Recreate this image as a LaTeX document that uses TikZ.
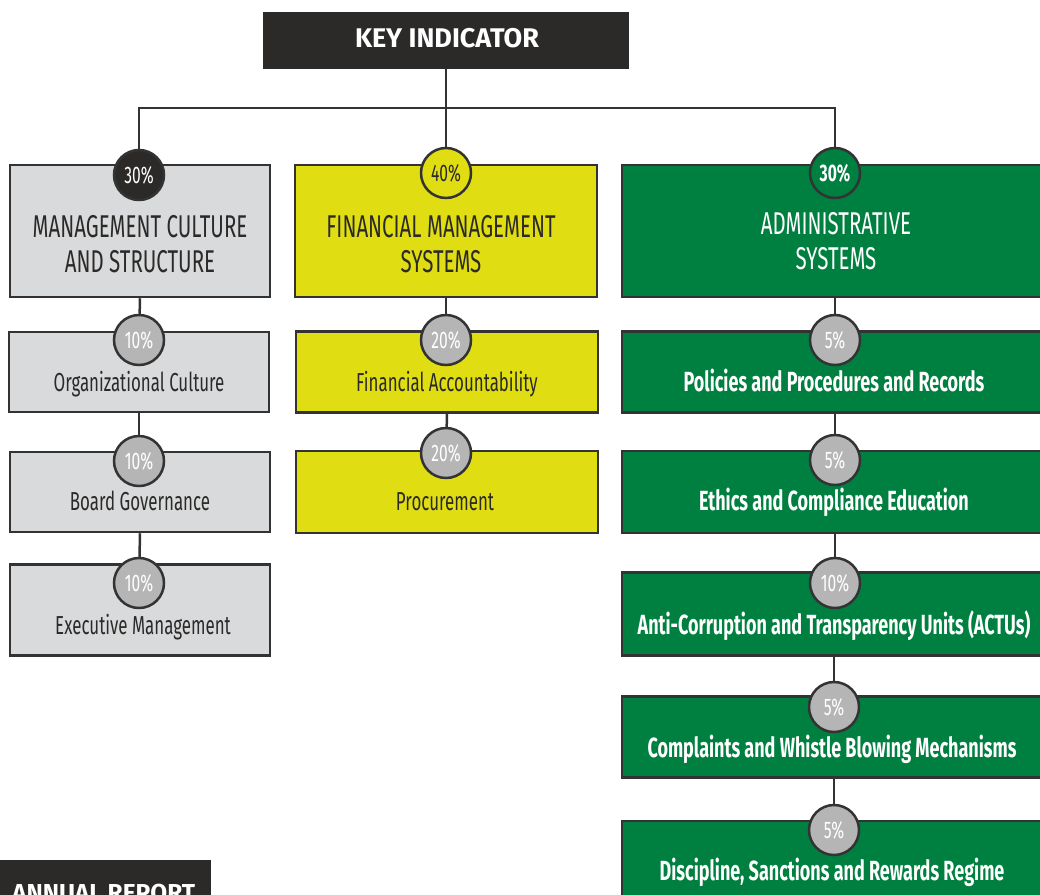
\documentclass[tikz,border=0pt]{standalone}
\usepackage{fontspec}
\setmainfont{Fira Sans}[FakeStretch=0.65]
\newfontfamily\wideface{Fira Sans}
\usepackage{tikz}
\usetikzlibrary{positioning}
\definecolor{ColDark}{RGB}{43,42,41}
\definecolor{ColLine}{RGB}{51,51,51}
\definecolor{ColGrey}{RGB}{217,218,219}
\definecolor{ColYel}{RGB}{224,222,18}
\definecolor{ColGreen}{RGB}{0,128,64}
\definecolor{ColCirc}{RGB}{180,181,180}
\tikzstyle{BoxBase}=[rectangle,draw=ColLine,line width=2.5pt,inner sep=0pt]
\tikzstyle{BoxGrey}=[BoxBase,fill=ColGrey]
\tikzstyle{BoxYel}=[BoxBase,fill=ColYel]
\tikzstyle{BoxGreen}=[BoxBase,fill=ColGreen]
\tikzstyle{PctBase}=[circle,draw=ColLine,line width=2.5pt,minimum size=50,inner sep=0pt,
font=\fontsize{24}{24}\selectfont]
\tikzstyle{PctSub}=[PctBase,fill=ColCirc,text=white]
\tikzstyle{TxtHead}=[align=center,font=\fontsize{31.5}{35}\selectfont]
\tikzstyle{TxtSub}=[text height=18pt,text depth=0pt,inner sep=0pt,font=\fontsize{26}{26}\selectfont]
\tikzstyle{TxtGreen}=[text height=19pt,text depth=0pt,inner sep=0pt,text=white,
font=\fontsize{27.7}{28}\selectfont\bfseries]
\tikzstyle{TxtWide}=[text height=18.6pt,text depth=0pt,inner sep=0pt,text=white,
font=\wideface\fontsize{27}{27}\selectfont\bfseries]
\tikzstyle{EdgeTree}=[ColLine,line width=2.5pt]

\begin{document}
\begin{tikzpicture}[x=1pt,y=-1pt]
    \clip(0,0)rectangle(1040,894);
    % top
    \node[rectangle,fill=ColDark,minimum width=366,minimum height=57](key)at(446,40){};
    \node[TxtWide](keyt)at(447,38){KEY INDICATOR};
    \coordinate(jA)at(139,108);
    \coordinate(jB)at(446,108);
    \coordinate(jC)at(835,108);
    % management culture
    \node[BoxGrey,minimum width=260,minimum height=132](mc)at(140,231){};
    \node[TxtHead,text=ColDark](mct)at(140,244){MANAGEMENT CULTURE\\AND STRUCTURE};
    \node[BoxGrey,minimum width=260,minimum height=80](oc)at(139,372){};
    \node[TxtSub,text=ColDark](oct)at(139,382){Organizational Culture};
    \node[BoxGrey,minimum width=260,minimum height=80](bg)at(140,492){};
    \node[TxtSub,text=ColDark](bgt)at(140,501){Board Governance};
    \node[BoxGrey,minimum width=260,minimum height=91](em)at(140,610){};
    \node[TxtSub,text=ColDark](emt)at(143,625){Executive Management};
    % financial management
    \node[BoxYel,minimum width=302,minimum height=132](fm)at(446,231){};
    \node[TxtHead,text=ColDark](fmt)at(441,244){FINANCIAL MANAGEMENT\\SYSTEMS};
    \node[BoxYel,minimum width=302,minimum height=81](fa)at(447,372){};
    \node[TxtSub,text=ColDark](fat)at(447,382){Financial Accountability};
    \node[BoxYel,minimum width=302,minimum height=82](pr)at(447,492){};
    \node[TxtSub,text=ColDark](prt)at(445,501){Procurement};
    % administrative systems
    \node[BoxGreen,minimum width=440,minimum height=132](as)at(842,231){};
    \node[TxtHead,text=white](ast)at(836,241){ADMINISTRATIVE\\SYSTEMS};
    \node[BoxGreen,minimum width=440,minimum height=81](pp)at(842,372){};
    \node[TxtGreen](ppt)at(834,382){Policies and Procedures and Records};
    \node[BoxGreen,minimum width=440,minimum height=82](ec)at(842,492){};
    \node[TxtGreen](ect)at(834,501){Ethics and Compliance Education};
    \node[BoxGreen,minimum width=440,minimum height=83](ac)at(842,614){};
    \node[TxtGreen](act)at(834,625){Anti-Corruption and Transparency Units (ACTUs)};
    \node[BoxGreen,minimum width=440,minimum height=81](cw)at(842,737){};
    \node[TxtGreen](cwt)at(832,748){Complaints and Whistle Blowing Mechanisms};
    \node[BoxGreen,minimum width=440,minimum height=90](ds)at(842,866){};
    \node[TxtGreen](dst)at(832,871){Discipline, Sanctions and Rewards Regime};
    % percentages
    \node[PctBase,fill=ColDark,text=white](pmc)at(139,175){30\%};
    \node[PctBase,fill=ColYel,text=ColDark](pfm)at(446,173){40\%};
    \node[PctBase,fill=ColGreen,text=white,font=\fontsize{24}{24}\selectfont\bfseries](pas)at(835,173){30\%};
    \node[PctSub](poc)at(139,340){10\%};
    \node[PctSub](pbg)at(139,461){10\%};
    \node[PctSub](pem)at(139,583){10\%};
    \node[PctSub](pfa)at(446,340){20\%};
    \node[PctSub](ppr)at(446,453){20\%};
    \node[PctSub](ppp)at(835,340){5\%};
    \node[PctSub](pec)at(835,460){5\%};
    \node[PctSub](pac)at(835,583){10\%};
    \node[PctSub](pcw)at(834,707){5\%};
    \node[PctSub](pds)at(834,830){5\%};
    % edges
    \draw[EdgeTree](key)--(jB);
    \draw[EdgeTree,line cap=rect](jA)--(jC);
    \draw[EdgeTree](jA)--(pmc);
    \draw[EdgeTree](jB)--(pfm);
    \draw[EdgeTree](jC)--(pas);
    \draw[EdgeTree](mc.south)--(poc);
    \draw[EdgeTree](oc.south)--(pbg);
    \draw[EdgeTree](bg.south)--(pem);
    \draw[EdgeTree](fm.south)--(pfa);
    \draw[EdgeTree](fa.south)--(ppr);
    \draw[EdgeTree](as.south-|ppp)--(ppp);
    \draw[EdgeTree](pp.south-|pec)--(pec);
    \draw[EdgeTree](ec.south-|pac)--(pac);
    \draw[EdgeTree](ac.south-|pcw)--(pcw);
    \draw[EdgeTree](cw.south-|pds)--(pds);
    % report tag
    \node[rectangle,fill=ColDark,minimum width=211,minimum height=50,anchor=north west](tag)at(0,860){};
    \node[TxtWide,anchor=base west,font=\wideface\fontsize{24.5}{25}\selectfont\bfseries](tagt)at(12,901){ANNUAL REPORT};
\end{tikzpicture}
\end{document}
